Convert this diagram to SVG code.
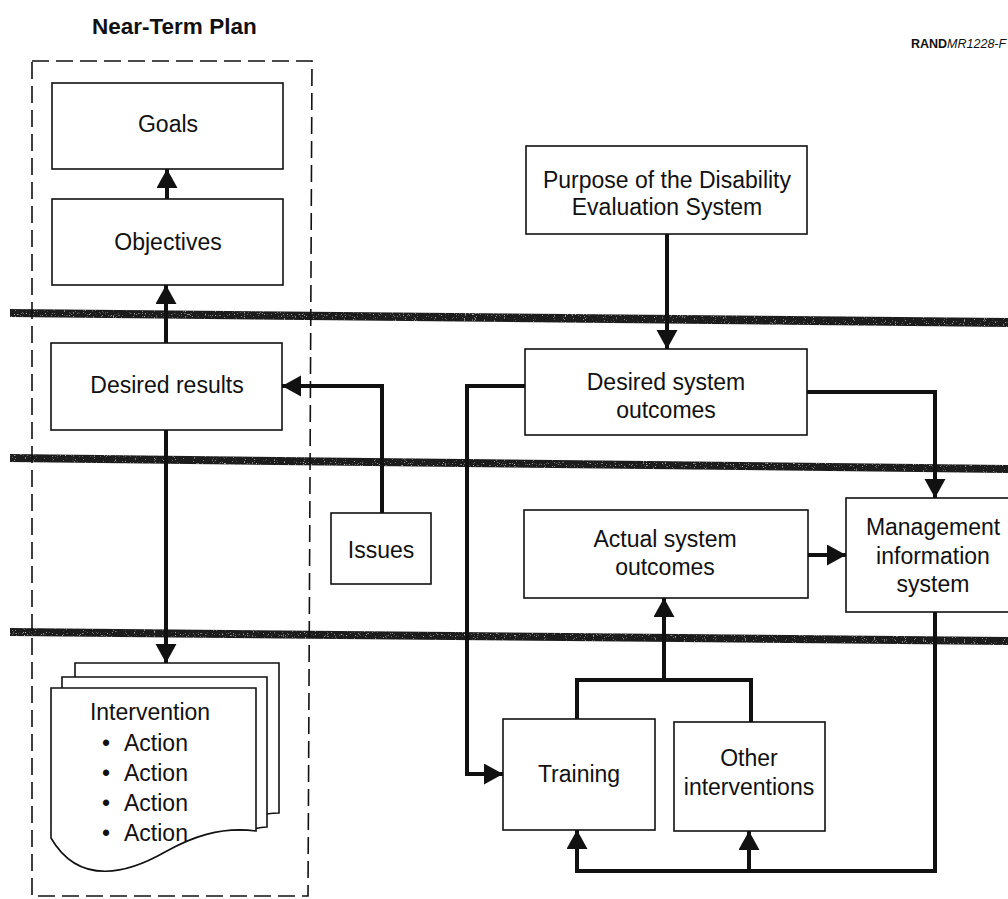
<svg xmlns="http://www.w3.org/2000/svg" width="1008" height="899" viewBox="0 0 1008 899">
  <style>
    text { font-family: "Liberation Sans", Arial, sans-serif; fill: #111; }
    .lbl { font-size: 23px; text-anchor: middle; }
    .box { fill: #fff; stroke: #111; stroke-width: 1.6; }
    .page { fill: #fff; stroke: #111; stroke-width: 1.6; }
    .wire { fill: none; stroke: #111; stroke-width: 4; stroke-linejoin: miter; }
    .band { fill: #1c1c1c; }
    .frame { fill: none; stroke: #111; stroke-width: 1.6; stroke-dasharray: 17 7; }
  </style>
  <defs>
    <marker id="head" markerUnits="userSpaceOnUse" markerWidth="21" markerHeight="22" refX="19" refY="10.5" orient="auto">
      <path d="M0,0 L19,10.5 L0,21 Z" fill="#111"/>
    </marker>
    <filter id="grain" x="0" y="0" width="1" height="1">
      <feTurbulence type="fractalNoise" baseFrequency="0.9" numOctaves="1" seed="4" result="noise"/>
      <feColorMatrix in="noise" type="matrix" values="0 0 0 0 0.6  0 0 0 0 0.6  0 0 0 0 0.6  0 0 0 5 -3.2" result="specks"/>
      <feComposite in="specks" in2="SourceGraphic" operator="in" result="dots"/>
      <feMerge><feMergeNode in="SourceGraphic"/><feMergeNode in="dots"/></feMerge>
    </filter>
  </defs>

  <!-- header -->
  <text x="92" y="34" style="font-size:22.5px;font-weight:bold">Near-Term Plan</text>
  <text x="911" y="48" style="font-size:12.5px"><tspan font-weight="bold">RAND</tspan><tspan font-style="italic">MR1228-F</tspan></text>

  <!-- horizontal level bands -->
  <g id="bands" filter="url(#grain)">
    <polygon class="band" points="10,309 1008,318 1008,327 10,317"/>
    <polygon class="band" points="10,454 1008,465 1008,473 10,462"/>
    <polygon class="band" points="10,628 1008,637 1008,645 10,636"/>
  </g>

  <!-- near-term plan frame -->
  <path id="plan-frame" class="frame" d="M32,61 L312,61 L308,896 L32,896 Z"/>

  <g id="goals">
    <rect class="box" x="52" y="83" width="231" height="86"/>
    <text class="lbl" x="168" y="132">Goals</text>
  </g>
  <g id="objectives">
    <rect class="box" x="52" y="199" width="231" height="86"/>
    <text class="lbl" x="168" y="250">Objectives</text>
  </g>
  <g id="desired-results">
    <rect class="box" x="51" y="343" width="231" height="87"/>
    <text class="lbl" x="167" y="393">Desired results</text>
  </g>
  <g id="issues">
    <rect class="box" x="331" y="513" width="100" height="71"/>
    <text class="lbl" x="381" y="558">Issues</text>
  </g>
  <g id="intervention">
    <!-- stacked sheets, back to front -->
    <path class="page" d="M75,663 H279 V813 C268,813 255,816 245,820 L75,820 Z"/>
    <path class="page" d="M62,677 H267 V827 C262,827 257,828 250,830 L62,830 Z"/>
    <path class="page" d="M51,688 H256 V831 C220,826 190,838 165,852 C130,872 80,888 51,838 Z"/>
    <text class="lbl" x="150" y="720">Intervention</text>
    <text x="102" y="751" style="font-size:23px">•</text>
    <text x="124" y="751" style="font-size:23px">Action</text>
    <text x="102" y="781" style="font-size:23px">•</text>
    <text x="124" y="781" style="font-size:23px">Action</text>
    <text x="102" y="811" style="font-size:23px">•</text>
    <text x="124" y="811" style="font-size:23px">Action</text>
    <text x="102" y="841" style="font-size:23px">•</text>
    <text x="124" y="841" style="font-size:23px">Action</text>
  </g>
  <g id="purpose">
    <rect class="box" x="526" y="146" width="281" height="88"/>
    <text class="lbl" x="667" y="188">Purpose of the Disability</text>
    <text class="lbl" x="667" y="215">Evaluation System</text>
  </g>
  <g id="desired-system-outcomes">
    <rect class="box" x="525" y="349" width="282" height="86"/>
    <text class="lbl" x="666" y="390">Desired system</text>
    <text class="lbl" x="666" y="418">outcomes</text>
  </g>
  <g id="actual-system-outcomes">
    <rect class="box" x="524" y="510" width="284" height="88"/>
    <text class="lbl" x="665" y="547">Actual system</text>
    <text class="lbl" x="665" y="575">outcomes</text>
  </g>
  <g id="management-information-system">
    <rect class="box" x="846" y="498" width="170" height="114"/>
    <text class="lbl" x="933" y="535">Management</text>
    <text class="lbl" x="933" y="564">information</text>
    <text class="lbl" x="933" y="592">system</text>
  </g>
  <g id="training">
    <rect class="box" x="503" y="719" width="152" height="111"/>
    <text class="lbl" x="579" y="782">Training</text>
  </g>
  <g id="other-interventions">
    <rect class="box" x="674" y="722" width="151" height="109"/>
    <text class="lbl" x="749" y="766">Other</text>
    <text class="lbl" x="749" y="795">interventions</text>
  </g>

  <!-- connectors -->
  <g id="connectors">
    <path class="wire" d="M167,199 V169" marker-end="url(#head)"/>
    <path class="wire" d="M166,343 V285" marker-end="url(#head)"/>
    <path class="wire" d="M166,430 V663" marker-end="url(#head)"/>
    <path class="wire" d="M382,513 V386 H282" marker-end="url(#head)"/>
    <path class="wire" d="M667,234 V349" marker-end="url(#head)"/>
    <path class="wire" d="M525,386 H467 V774 H503" marker-end="url(#head)"/>
    <path class="wire" d="M807,392 H935 V498" marker-end="url(#head)"/>
    <path class="wire" d="M808,555 H846" marker-end="url(#head)"/>
    <path class="wire" d="M577,719 V680 H751 V722"/>
    <path class="wire" d="M664,680 V598" marker-end="url(#head)"/>
    <path class="wire" d="M935,612 V871 H577 V830" marker-end="url(#head)"/>
    <path class="wire" d="M749,871 V831" marker-end="url(#head)"/>
  </g>
</svg>
